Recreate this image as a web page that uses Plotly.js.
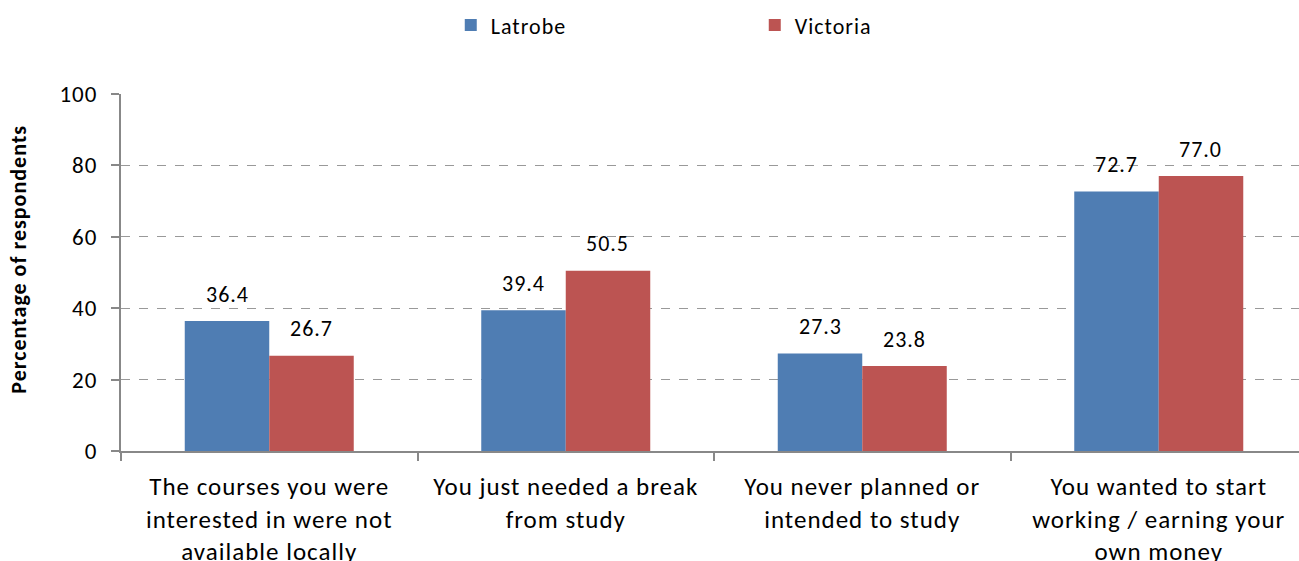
<!DOCTYPE html>
<html><head><meta charset="utf-8">
<script src="https://cdn.plot.ly/plotly-3.0.1.min.js"></script>
<style>html,body{margin:0;padding:0;background:#fff}#chart{width:1299px;height:561px}
#chart text{letter-spacing:1px}</style>
</head><body><div id="chart"></div>
<script>
const categories = [
  "The courses you were<br>interested in were not<br>available locally",
  "You just needed a break<br>from study",
  "You never planned or<br>intended to study",
  "You wanted to start<br>working / earning your<br>own money"
];
const latrobe = [36.4, 39.4, 27.3, 72.7];
const victoria = [26.7, 50.5, 23.8, 77.0];
const yTicks = [0, 20, 40, 60, 80, 100];
const yTitle = "Percentage of respondents";

const FONT = "Carlito, 'Open Sans', 'Noto Sans', sans-serif";
const annotations = [];
categories.forEach((c, i) => {
  annotations.push({x: c, y: latrobe[i], text: latrobe[i].toFixed(1), showarrow: false,
    xshift: -42, yshift: 27, yanchor: 'middle', font: {size: 22, color: '#000', family: FONT}});
  annotations.push({x: c, y: victoria[i], text: victoria[i].toFixed(1), showarrow: false,
    xshift: 42, yshift: 27, yanchor: 'middle', font: {size: 22, color: '#000', family: FONT}});
});
annotations.push({xref: 'paper', yref: 'paper', x: -0.0875, xanchor: 'center', y: 0.537, yanchor: 'middle',
  text: '<b>' + yTitle + '</b>', textangle: -90, showarrow: false, font: {size: 22, family: FONT, color: '#000'}});

const data = [
  {type: 'bar', name: 'Latrobe', x: categories, y: latrobe, marker: {color: '#4F7DB3'}},
  {type: 'bar', name: 'Victoria', x: categories, y: victoria, marker: {color: '#BC5452'}}
];
const layout = {
  width: 1299, height: 561,
  margin: {l: 121, r: 0, t: 94, b: 110},
  paper_bgcolor: '#fff', plot_bgcolor: '#fff',
  font: {family: FONT, size: 22, color: '#000'},
  barmode: 'group', bargap: 0.43, bargroupgap: 0,
  showlegend: true,
  legend: {orientation: 'h', x: 0.538, xanchor: 'center', y: 0.955, yref: 'container', yanchor: 'middle',
    font: {size: 22, family: FONT}, entrywidth: 259, itemwidth: 30},
  xaxis: {type: 'category', range: [-0.5, 3.473], showline: true, linecolor: '#888', linewidth: 2,
    ticks: 'outside', tickson: 'boundaries', ticklen: 8, tickcolor: '#888', tickwidth: 2,
    ticklabelstandoff: 12,
    tickfont: {size: 25, family: FONT}, showgrid: false, zeroline: false},
  yaxis: {range: [0, 100], tickvals: yTicks, showline: true, linecolor: '#888', linewidth: 2,
    ticks: 'outside', ticklen: 8, tickcolor: '#888', tickwidth: 2, ticklabelstandoff: 9,
    showgrid: true, gridcolor: '#999', griddash: 'dash', gridwidth: 1, zeroline: false,
    tickfont: {size: 23, family: FONT}},
  annotations: annotations
};
Plotly.newPlot('chart', data, layout, {displayModeBar: false, staticPlot: true});
</script>
</body></html>
